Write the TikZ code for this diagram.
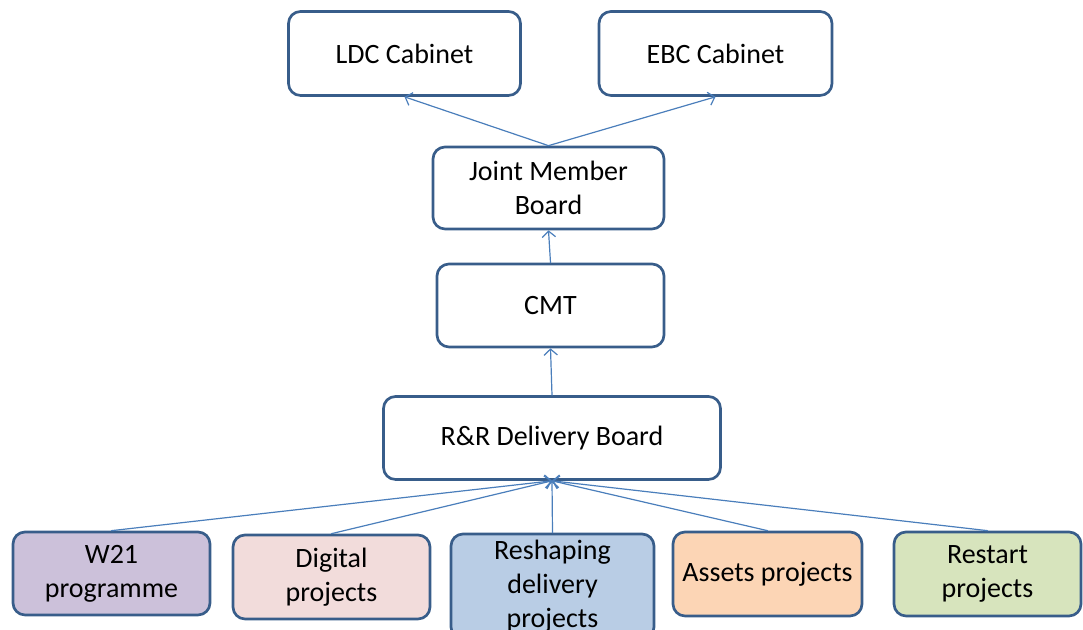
\documentclass[tikz,border=0pt]{standalone}
\usepackage{fontspec}
\setmainfont{Carlito}
\usetikzlibrary{arrows.meta}
\definecolor{boxline}{HTML}{385D8A}
\definecolor{linkblue}{HTML}{4A7EBB}
\definecolor{wfill}{HTML}{CCC1DA}
\definecolor{dfill}{HTML}{F2DCDB}
\definecolor{rfill}{HTML}{B9CDE5}
\definecolor{afill}{HTML}{FCD5B5}
\definecolor{sfill}{HTML}{D7E4BD}
\begin{document}
\begin{tikzpicture}[x=0.75pt, y=0.75pt, font=\fontsize{21}{25.5}\selectfont, line join=round, line cap=round,
        box/.style={draw=boxline, line width=2pt, rounded corners=9pt, align=center, inner sep=0pt},
        link/.style={draw=linkblue, line width=0.9pt, -{Straight Barb[length=4.5pt,width=10pt]}}]
            \useasboundingbox (0,0) rectangle (1083,630);
            \node[box, minimum width=174pt, minimum height=63pt] (ldc) at (404.5,576.5) {LDC Cabinet};
            \node[box, minimum width=174.75pt, minimum height=63pt] (ebc) at (715.5,576.5) {EBC Cabinet};
            \node[box, minimum width=173.25pt, minimum height=61.5pt] (jmb) at (548.5,442) {Joint Member\\Board};
            \node[box, minimum width=170.25pt, minimum height=62.25pt] (cmt) at (550.5,324.5) {CMT};
            \node[box, minimum width=252.75pt, minimum height=62.25pt] (rrdb) at (552,192) {R\&R Delivery Board};
            \node[box, fill=wfill, minimum width=147.75pt, minimum height=62.25pt] (w21) at (111.5,56.5) {W21\\programme};
            \node[box, fill=dfill, minimum width=147.75pt, minimum height=63pt] (digital) at (331.5,53) {Digital\\projects};
            \node[box, fill=rfill, minimum width=152.25pt, minimum height=78.75pt] (reshape) at (552.5,43.5) {Reshaping\\delivery\\projects};
            \node[box, fill=afill, minimum width=141.75pt, minimum height=63pt] (assets) at (767.5,56) {Assets projects};
            \node[box, fill=sfill, minimum width=140.25pt, minimum height=63pt] (restart) at (987.5,56) {Restart\\projects};
            % connectors
            \draw[link] (jmb.north) -- (ldc.south);
            \draw[link] (jmb.north) -- (ebc.south);
            \draw[link] (cmt.north) -- (jmb.south);
            \draw[link] (rrdb.north) -- (cmt.south);
            \foreach \n in {w21,digital,reshape,assets,restart}
                \draw[link] (\n.north) -- (rrdb.south);
\end{tikzpicture}
\end{document}
